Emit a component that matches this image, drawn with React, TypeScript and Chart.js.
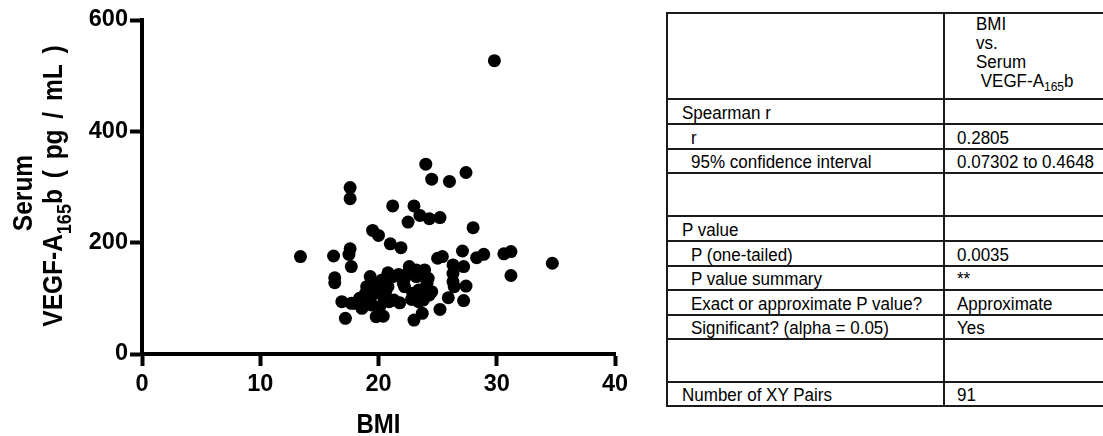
import React, { useEffect, useRef } from "react";
import { Chart, registerables } from "chart.js";

Chart.register(...registerables);

// BMI (x) and serum VEGF-A165b in pg/mL (y)
const bmi = [
  29.8, 24.0, 24.5, 26.0, 27.4, 17.6, 17.6, 21.2, 23.0, 23.5,
  24.3, 25.2, 22.5, 28.0, 19.5, 20.0, 21.0, 21.9, 13.4, 16.2,
  17.6, 17.5, 17.7, 16.3, 16.3, 25.0, 25.4, 27.1, 28.3, 28.9,
  30.6, 31.2, 31.2, 34.7, 26.3, 27.2, 26.3, 26.3, 26.4, 27.4,
  27.2, 25.9, 25.2, 24.3, 23.7, 23.0, 23.9, 24.2, 23.6, 22.6,
  23.2, 22.9, 22.8, 23.4, 23.4, 22.2, 21.7, 20.8, 21.2, 22.1,
  21.3, 21.8, 20.4, 19.8, 19.3, 19.0, 18.9, 19.8, 19.8, 20.1,
  20.5, 20.1, 19.4, 18.6, 18.0, 16.9, 17.2, 17.7, 20.8, 20.6,
  22.2, 23.9, 24.1, 23.2, 19.3, 20.9, 23.8, 24.5, 18.4, 20.3,
  22.6,
];
const vegf = [
  527, 341, 314, 310, 326, 299, 279, 266, 266, 249,
  243, 245, 237, 227, 222, 213, 198, 191, 175, 176,
  189, 179, 157, 137, 128, 172, 175, 185, 173, 179,
  180, 184, 141, 163, 160, 157, 145, 130, 121, 122,
  96, 101, 80, 106, 73, 61, 151, 136, 145, 157,
  151, 109, 98, 94, 115, 136, 143, 146, 139, 127,
  97, 92, 68, 67, 139, 121, 109, 115, 124, 109,
  97, 85, 88, 82, 91, 94, 64, 91, 121, 112,
  121, 115, 127, 139, 97, 94, 97, 112, 100, 133,
  150,
];

const xTicks = [0, 10, 20, 30, 40];
const yTicks = [0, 200, 400, 600];

const xTitle = "BMI";
const yTitleLine1 = "Serum";
const yTitleLine2 = ["VEGF-A", "165", "b ( pg / mL )"];

// Spearman table
const headerLines = ["BMI", "vs.", "Serum"];
const rowLabels = [
  "Spearman r",
  "r",
  "95% confidence interval",
  "",
  "P value",
  "P (one-tailed)",
  "P value summary",
  "Exact or approximate P value?",
  "Significant? (alpha = 0.05)",
  "",
  "Number of XY Pairs",
];
const rowValues = [
  "",
  "0.2805",
  "0.07302 to 0.4648",
  "",
  "",
  "0.0035",
  "**",
  "Approximate",
  "Yes",
  "",
  "91",
];
const rowIndented = [false, true, true, false, false, true, true, true, true, false, false];
const rowHeights = [25, 25, 24, 43, 25, 25, 24, 25, 24, 43, 24];

const FONT = "'Liberation Sans', Arial, sans-serif";

const titlesPlugin = {
  id: "titles",
  afterDraw(chart: any) {
    const ctx = chart.ctx as any;
    const area = chart.chartArea;
    ctx.save();
    ctx.fillStyle = "#000";
    // x title
    ctx.save();
    ctx.translate((area.left + area.right) / 2, 433);
    ctx.scale(1, 1.15);
    ctx.font = `bold 24px ${FONT}`;
    ctx.textAlign = "center";
    ctx.textBaseline = "alphabetic";
    ctx.fillText(xTitle, 0, 0);
    ctx.restore();

    // y title
    const cy = (area.top + area.bottom) / 2;
    ctx.save();
    ctx.translate(32, cy + 6);
    ctx.rotate(-Math.PI / 2);
    ctx.scale(1, 1.12);
    ctx.font = `bold 24.5px ${FONT}`;
    ctx.textAlign = "center";
    ctx.fillText(yTitleLine1, 0, 0);
    ctx.restore();

    ctx.save();
    ctx.translate(62, cy - 1);
    ctx.rotate(-Math.PI / 2);
    ctx.scale(1, 1.12);
    ctx.textAlign = "left";
    const big = `bold 24.5px ${FONT}`;
    const small = `bold 18px ${FONT}`;
    ctx.font = big;
    if ("wordSpacing" in ctx) ctx.wordSpacing = "4px";
    const w0 = ctx.measureText(yTitleLine2[0]).width;
    const w2 = ctx.measureText(yTitleLine2[2]).width;
    ctx.font = small;
    const w1 = ctx.measureText(yTitleLine2[1]).width;
    let x = -(w0 + w1 + w2) / 2;
    ctx.font = big;
    ctx.fillText(yTitleLine2[0], x, 0);
    x += w0;
    ctx.font = small;
    ctx.fillText(yTitleLine2[1], x, 8);
    x += w1;
    ctx.font = big;
    ctx.fillText(yTitleLine2[2], x, 0);
    ctx.restore();
    ctx.restore();
  },
};

function ScatterChart() {
  const ref = useRef<HTMLCanvasElement | null>(null);
  useEffect(() => {
    if (!ref.current) return;
    const points = bmi.map((b, i) => ({ x: b, y: vegf[i] }));
    const tickFont = { family: FONT, size: 23.5, weight: "bold" as const };
    const chart = new Chart(ref.current, {
      type: "scatter",
      data: {
        datasets: [
          {
            data: points,
            backgroundColor: "#000",
            borderWidth: 0,
            pointRadius: 6.5,
            pointHoverRadius: 6.5,
          },
        ],
      },
      options: {
        animation: false,
        responsive: false,
        events: [],
        layout: { padding: { top: 20, right: 35, left: 0, bottom: 0 } },
        plugins: { legend: { display: false }, tooltip: { enabled: false } },
        scales: {
          x: {
            type: "linear",
            min: 0,
            max: 40,
            afterBuildTicks: (s: any) => {
              s.ticks = xTicks.map((v) => ({ value: v }));
            },
            afterFit: (s: any) => {
              s.height = 82;
            },
            ticks: { font: tickFont, color: "#000", padding: 4, maxRotation: 0 },
            grid: {
              drawOnChartArea: false,
              drawTicks: true,
              tickLength: 12,
              tickWidth: 4,
              tickColor: "#000",
            },
            border: { display: true, width: 4, color: "#000" },
          },
          y: {
            type: "linear",
            min: 0,
            max: 600,
            afterBuildTicks: (s: any) => {
              s.ticks = yTicks.map((v) => ({ value: v }));
            },
            afterFit: (s: any) => {
              s.width = 142;
            },
            ticks: { font: tickFont, color: "#000", padding: 2 },
            grid: {
              drawOnChartArea: false,
              drawTicks: true,
              tickLength: 12,
              tickWidth: 4,
              tickColor: "#000",
            },
            border: { display: true, width: 4, color: "#000" },
          },
        },
      },
      plugins: [titlesPlugin],
    } as any);
    return () => chart.destroy();
  }, []);
  return <canvas ref={ref} width={650} height={436} style={{ position: "absolute", left: 0, top: 0 }} />;
}

const stretch: React.CSSProperties = {
  display: "inline-block",
  transform: "scaleY(1.09)",
  transformOrigin: "50% 80%",
  whiteSpace: "pre",
};

function StatsTable() {
  const line = "2px solid #1a1a1a";
  const cellText: React.CSSProperties = {
    display: "flex",
    alignItems: "flex-end",
    lineHeight: "19px",
    whiteSpace: "pre",
    boxSizing: "border-box",
  };
  return (
    <div
      style={{
        position: "absolute",
        left: 666,
        top: 12,
        width: 520,
        borderTop: line,
        borderLeft: line,
        fontFamily: FONT,
        fontSize: 17,
        color: "#000",
      }}
    >
      <div style={{ display: "flex", height: 86, boxSizing: "border-box", borderBottom: line }}>
        <div style={{ width: 277, boxSizing: "border-box", borderRight: line }} />
        <div style={{ paddingLeft: 31, lineHeight: "19px", paddingTop: 1 }}>
          {headerLines.map((h, i) => (
            <div key={i}>
              <span style={stretch}>{h}</span>
            </div>
          ))}
          <div>
            <span style={stretch}>
              {" VEGF-A"}
              <sub style={{ fontSize: 12, verticalAlign: "-4px", lineHeight: 0 }}>165</sub>
              {"b"}
            </span>
          </div>
        </div>
      </div>
      {rowLabels.map((label, i) => (
        <div
          key={i}
          style={{ display: "flex", height: rowHeights[i], boxSizing: "border-box", borderBottom: line }}
        >
          <div
            style={{
              ...cellText,
              width: 277,
              borderRight: line,
              paddingLeft: rowIndented[i] ? 23 : 14,
            }}
          >
            <span style={stretch}>{label}</span>
          </div>
          <div style={{ ...cellText, paddingLeft: 12 }}>
            <span style={stretch}>{rowValues[i]}</span>
          </div>
        </div>
      ))}
    </div>
  );
}

export default function App() {
  return (
    <div
      style={{
        position: "fixed",
        left: 0,
        top: 0,
        width: 1103,
        height: 436,
        overflow: "hidden",
        background: "#fff",
      }}
    >
      <ScatterChart />
      <StatsTable />
    </div>
  );
}
